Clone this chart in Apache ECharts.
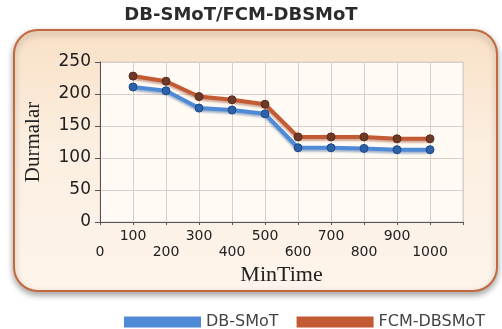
<!DOCTYPE html>
<html>
<head>
<meta charset="utf-8">
<script src="https://cdn.jsdelivr.net/npm/echarts@6/dist/echarts.min.js"></script>
<style>
	html, body { margin: 0; padding: 0; background: #fff; }
	#main { width: 502px; height: 329px; }
</style>
</head>
<body>
<div id="main"></div>
<script>
// MinTime values on the x axis
const minTime = [100, 200, 300, 400, 500, 600, 700, 800, 900, 1000];
// Durmalar (stops) per series
const dbSmot = [211, 205, 178, 175, 169, 116, 116, 115, 113, 113];
const fcmDbsmot = [228, 220, 196, 191, 184, 133, 133, 133, 130, 130];
const yTicks = [0, 50, 100, 150, 200, 250];

const chart = echarts.init(document.getElementById('main'), null, { renderer: 'canvas' });

function pairs(values) {
	return minTime.map((x, i) => [x, values[i]]);
}

const option = {
	animation: false,
	backgroundColor: '#ffffff',
	title: {
		text: 'DB-SMoT/FCM-DBSMoT',
		left: 236,
		textAlign: 'center',
		top: 1,
		textStyle: {
			fontFamily: 'DejaVu Sans',
			fontWeight: 'bold',
			fontSize: 18,
			color: '#2b2b2b'
		}
	},
	graphic: [{
		type: 'rect',
		z: -10,
		shape: { x: 14, y: 30, width: 483, height: 261, r: 24 },
		style: {
			fill: {
				type: 'linear', x: 0, y: 0, x2: 0, y2: 1,
				colorStops: [
					{ offset: 0, color: '#f9e0c6' },
					{ offset: 0.45, color: '#fcefe1' },
					{ offset: 1, color: '#fdf4eb' }
				]
			},
			stroke: '#c2693f',
			lineWidth: 2,
			shadowBlur: 6,
			shadowOffsetY: 3,
			shadowColor: 'rgba(0,0,0,0.35)'
		}
	}],
	legend: {
		left: 119,
		top: 309,
		itemWidth: 77,
		itemHeight: 11,
		itemGap: 18,
		icon: 'rect',
		textStyle: { fontFamily: 'DejaVu Sans', fontSize: 16, color: '#444' },
		data: [
			{ name: 'DB-SMoT', itemStyle: { color: '#4f8ad6', borderWidth: 0 } },
			{ name: 'FCM-DBSMoT', itemStyle: { color: '#c25a33', borderWidth: 0 } }
		]
	},
	grid: {
		left: 100,
		right: 39,
		top: 62,
		bottom: 107,
		show: true,
		backgroundColor: '#fffaf3',
		borderColor: '#d6cdc5',
		borderWidth: 1
	},
	xAxis: {
		type: 'value',
		min: 0,
		max: 1100,
		interval: 100,
		name: 'MinTime',
		nameLocation: 'middle',
		nameGap: 42,
		nameTextStyle: { fontFamily: 'Liberation Serif', fontSize: 22, color: '#222' },
		axisLine: { show: true, lineStyle: { color: '#555', width: 1 } },
		axisTick: { show: true, length: 3, lineStyle: { color: '#555' } },
		axisLabel: {
			margin: 6,
			fontFamily: 'DejaVu Sans',
			fontSize: 14,
			lineHeight: 16,
			color: '#222',
			formatter: function (v) {
				if (v > 1000) return '';
				return (v / 100) % 2 ? String(v) : '\n' + v;
			}
		},
		splitLine: { show: true, lineStyle: { color: '#d8d0c8', width: 1 } }
	},
	yAxis: {
		type: 'value',
		min: 0,
		max: 250,
		interval: 50,
		name: 'Durmalar',
		nameLocation: 'middle',
		nameGap: 56,
		nameTextStyle: { fontFamily: 'Liberation Serif', fontSize: 21, color: '#222' },
		axisLine: { show: true, lineStyle: { color: '#555', width: 1 } },
		axisTick: { show: true, length: 5, lineStyle: { color: '#555' } },
		axisLabel: {
			margin: 9,
			fontFamily: 'DejaVu Sans',
			fontSize: 17,
			color: '#1e1e1e',
			formatter: function (v) {
				return yTicks.indexOf(v) >= 0 ? String(v) : '';
			}
		},
		splitLine: { show: true, lineStyle: { color: '#d8d0c8', width: 1 } }
	},
	series: [{
		name: 'DB-SMoT',
		type: 'line',
		data: pairs(dbSmot),
		symbol: 'circle',
		symbolSize: 8,
		lineStyle: {
			color: '#4f8ad6',
			width: 4,
			shadowColor: 'rgba(60,100,160,0.45)',
			shadowBlur: 2,
			shadowOffsetY: 2
		},
		itemStyle: { color: '#2e62a8', borderColor: '#1f4a86', borderWidth: 1 }
	}, {
		name: 'FCM-DBSMoT',
		type: 'line',
		data: pairs(fcmDbsmot),
		symbol: 'circle',
		symbolSize: 8,
		lineStyle: {
			color: '#c25a33',
			width: 4,
			shadowColor: 'rgba(150,70,40,0.45)',
			shadowBlur: 2,
			shadowOffsetY: 2
		},
		itemStyle: { color: '#6e3a28', borderColor: '#5a2c1e', borderWidth: 1 }
	}]
};

chart.setOption(option);
</script>
</body>
</html>
